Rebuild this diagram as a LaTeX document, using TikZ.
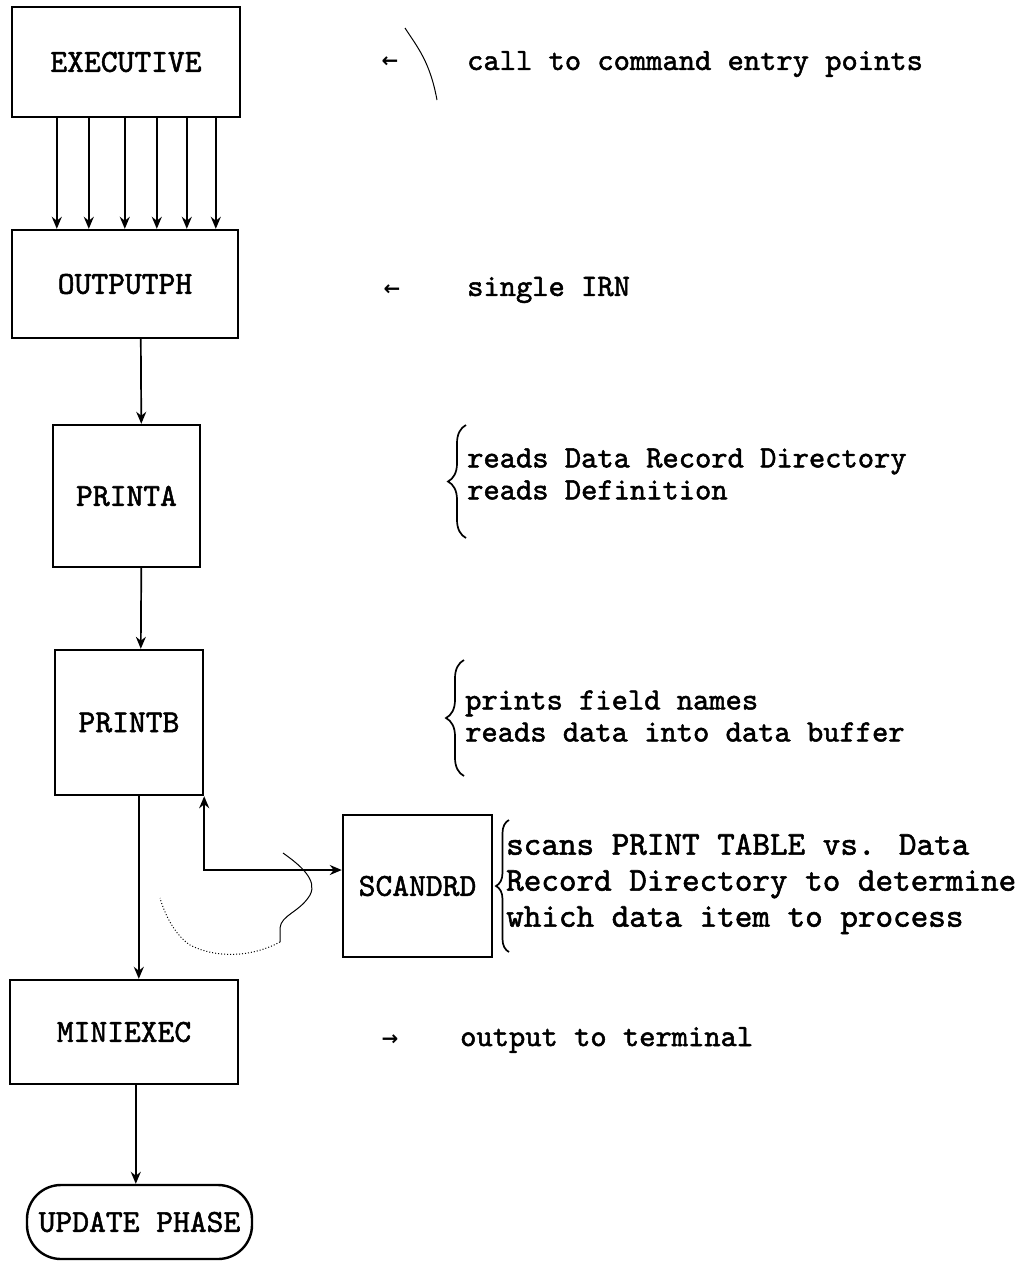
\documentclass[tikz,border=0pt]{standalone}
\usepackage{fontspec}
\newfontfamily\tw[FakeBold=1.6]{lmmono10-regular.otf}
\newfontfamily\dv{DejaVu Sans}
\usetikzlibrary{arrows.meta,decorations.pathreplacing}
\begin{document}
\begin{tikzpicture}[x=1pt,y=-1pt,
  box/.style={draw,line width=2.4pt,inner sep=0pt,font={\tw\fontsize{32}{36}\selectfont}},
  ann/.style={anchor=west,inner sep=0pt,align=left,font={\tw\fontsize{31}{32}\selectfont}},
  annc/.style={anchor=west,inner sep=0pt,align=left,font={\tw\fontsize{33.5}{36}\selectfont}},
  sym/.style={inner sep=0pt,font={\dv\bfseries\fontsize{20}{20}\selectfont}},
  arr/.style={line width=1.7pt,-{Stealth[length=12pt,width=10pt]}},
  darr/.style={line width=1.9pt,{Stealth[length=12pt,width=10pt]}-{Stealth[length=12pt,width=10pt]}},
  brc/.style={line width=1.7pt,decorate,decoration={brace,amplitude=18pt}},
  hand/.style={line width=1pt}]
\useasboundingbox (0,0) rectangle (1029,1262);

% boxes
\node[box,minimum width=228pt,minimum height=110pt] (exec) at (126,62) {EXECUTIVE};
\node[box,minimum width=226pt,minimum height=108pt] (outp) at (125,284) {OUTPUTPH};
\node[box,minimum width=147pt,minimum height=142pt] (pra) at (126.5,496) {PRINTA};
\node[box,minimum width=148pt,minimum height=145pt] (prb) at (129,722.5) {PRINTB};
\node[box,minimum width=149pt,minimum height=142pt] (scan) at (417.5,886) {SCANDRD};
\node[box,minimum width=228pt,minimum height=104pt] (mini) at (124,1032) {MINIEXEC};
\node[box,rounded corners=34pt,minimum width=225pt,minimum height=74pt] (upd) at (139.5,1222) {UPDATE PHASE};

% connectors
\foreach \dx in {46,78,114,146,176,205}
  \draw[arr] ([xshift=\dx pt]exec.south west) -- ([xshift=\dx pt]outp.north west);
\draw[arr] ([xshift=130pt]outp.south west) -- ([xshift=89.5pt]pra.north west);
\draw[arr] ([xshift=89.5pt]pra.south west) -- ([xshift=87pt]prb.north west);
\draw[arr] ([xshift=85pt]prb.south west) -- ([xshift=130pt]mini.north west);
\coordinate (m1) at ([xshift=127pt]mini.south west);
\draw[arr] (m1) -- (m1 |- upd.north);
\draw[darr] (prb.south east) |- ([yshift=16pt]scan.west);

% annotations
\node[sym] (a1) at (390,62) {←};
\node[ann] (t1) at (467,64) {call to command entry points};
\node[sym] (a2) at (392,290) {←};
\node[ann] (t2) at (467,290) {single IRN};

\coordinate (ba1) at (466,538);
\coordinate (ba2) at (466,425);
\draw[brc] (ba1) -- (ba2);
\node[ann] (t3) at (467,474) {reads Data Record Directory\\reads Definition};

\coordinate (bb1) at (464,776);
\coordinate (bb2) at (464,660);
\draw[brc] (bb1) -- (bb2);
\node[ann] (t4) at (465,716) {prints field names\\reads data into data buffer};

\coordinate (bc1) at (509,952);
\coordinate (bc2) at (509,820);
\draw[brc,decoration={brace,amplitude=13pt}] (bc1) -- (bc2);
\node[annc] (t5) at (506,884) {scans PRINT TABLE vs. Data\\Record Directory to determine\\which data item to process};

\node[sym] (a3) at (390,1040) {→};
\node[ann] (t6) at (460,1040) {output to terminal};

% hand marks
\draw[hand] (405,28) .. controls (418,48) and (430,62) .. (437,100);
\draw[hand] (283,853) .. controls (300,865) and (318,880) .. (310,895) .. controls (300,912) and (281,915) .. (280,928) -- (280,942);
\draw[hand,dotted] (280,942) .. controls (250,958) and (215,958) .. (190,945) .. controls (175,935) and (165,915) .. (160,898);
\end{tikzpicture}
\end{document}
